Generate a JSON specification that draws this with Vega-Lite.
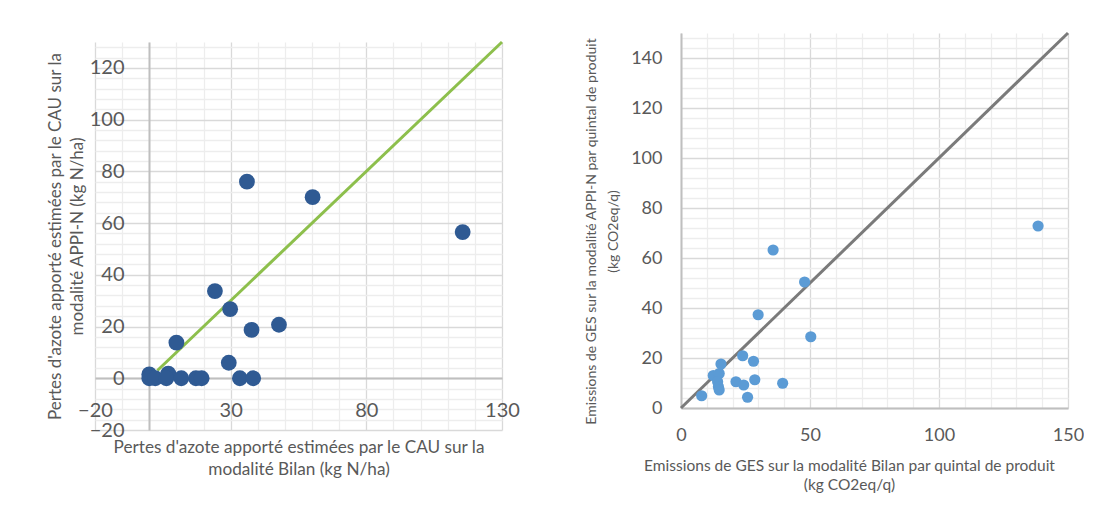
{
  "$schema": "https://vega.github.io/schema/vega-lite/v6.json",
  "background": "white",
  "padding": {"left": 46, "top": 27, "right": 0, "bottom": 0},
  "spacing": 64,
  "config": {
    "font": "Lato",
    "view": {"stroke": null},
    "axis": {
      "ticks": false,
      "tickSize": 0,
      "labelColor": "#595959",
      "titleColor": "#595959",
      "titleFontWeight": "normal",
      "domainColor": "#bfbfbf",
      "domainWidth": 2,
      "gridWidth": 1.3,
      "labelOverlap": false,
      "labelFlush": false,
      "labelBound": false
    }
  },
  "datasets": {
    "azote": [
      {"bilan": 36, "appi": 76},
      {"bilan": 60.2, "appi": 70},
      {"bilan": 115.5, "appi": 56.5},
      {"bilan": 24.2, "appi": 33.7},
      {"bilan": 29.8, "appi": 26.7},
      {"bilan": 47.8, "appi": 20.7},
      {"bilan": 37.7, "appi": 18.7},
      {"bilan": 10, "appi": 13.8},
      {"bilan": 29.3, "appi": 6},
      {"bilan": 33.4, "appi": 0},
      {"bilan": 38.3, "appi": 0},
      {"bilan": 0, "appi": 1.5},
      {"bilan": 0, "appi": 0},
      {"bilan": 2.2, "appi": 0},
      {"bilan": 7, "appi": 1.8},
      {"bilan": 6.3, "appi": 0},
      {"bilan": 11.8, "appi": 0},
      {"bilan": 17.2, "appi": 0},
      {"bilan": 19.3, "appi": 0}
    ],
    "ges": [
      {"bilan": 138.4, "appi": 72.8},
      {"bilan": 35.7, "appi": 63.2},
      {"bilan": 47.9, "appi": 50.4},
      {"bilan": 29.9, "appi": 37.3},
      {"bilan": 50.3, "appi": 28.5},
      {"bilan": 23.9, "appi": 20.9},
      {"bilan": 28.1, "appi": 18.7},
      {"bilan": 15.5, "appi": 17.6},
      {"bilan": 12.5, "appi": 13.0},
      {"bilan": 14.8, "appi": 13.8},
      {"bilan": 14.2, "appi": 10.5},
      {"bilan": 14.5, "appi": 8.5},
      {"bilan": 14.8, "appi": 7.2},
      {"bilan": 21.3, "appi": 10.5},
      {"bilan": 24.3, "appi": 9.2},
      {"bilan": 28.6, "appi": 11.3},
      {"bilan": 39.4, "appi": 9.9},
      {"bilan": 25.8, "appi": 4.3},
      {"bilan": 8.0, "appi": 4.9}
    ],
    "diag_left": [{"bilan": 3, "appi": 3}, {"bilan": 130, "appi": 130}],
    "diag_right": [{"bilan": 0, "appi": 0}, {"bilan": 150, "appi": 150}],
    "spacer": [{}]
  },
  "hconcat": [
    {
      "spacing": 2,
      "vconcat": [
        {
          "width": 20,
          "height": 1,
          "data": {"name": "spacer"},
          "mark": {"type": "point", "opacity": 0, "clip": true},
          "encoding": {}
        },
        {
          "width": 407,
          "height": 388,
          "encoding": {
            "x": {
              "field": "bilan",
              "type": "quantitative",
              "scale": {"domain": [-20, 130], "nice": false, "zero": false},
              "axis": {
                "title": ["Pertes d'azote apporté estimées par le CAU sur la", "modalité Bilan (kg N/ha)"],
                "values": [-20, -10, 0, 10, 20, 30, 40, 50, 60, 70, 80, 90, 100, 110, 120, 130],
                "labelExpr": "(datum.value + 20) % 50 === 0 ? datum.label : ''",
                "offset": -52,
                "grid": true,
                "gridColor": {"condition": {"test": "(datum.value + 20) % 50 === 0", "value": "#d9d9d9"}, "value": "#ededed"},
                "labelFontSize": 20,
                "labelPadding": 22,
                "titleFontSize": 17.2,
                "titlePadding": 18,
                "titleLineHeight": 22
              }
            },
            "y": {
              "field": "appi",
              "type": "quantitative",
              "scale": {"domain": [-20, 130], "nice": false, "zero": false},
              "axis": {
                "title": ["Pertes d'azote apporté estimées par le CAU sur la", "modalité APPI-N (kg N/ha)"],
                "values": [-20, -16, -12, -8, -4, 0, 4, 8, 12, 16, 20, 24, 28, 32, 36, 40, 44, 48, 52, 56, 60, 64, 68, 72, 76, 80, 84, 88, 92, 96, 100, 104, 108, 112, 116, 120, 124, 128],
                "labelExpr": "datum.value % 20 === 0 ? datum.label : ''",
                "offset": -54,
                "grid": true,
                "gridColor": {"condition": {"test": "datum.value % 20 === 0", "value": "#d9d9d9"}, "value": "#ededed"},
                "labelFontSize": 20,
                "labelPadding": 25,
                "titleFontSize": 17,
                "titlePadding": 3,
                "titleLineHeight": 22
              }
            }
          },
          "layer": [
            {
              "data": {"name": "diag_left"},
              "mark": {"type": "line", "color": "#8dbf4c", "strokeWidth": 3},
              "encoding": {}
            },
            {
              "data": {"name": "azote"},
              "mark": {"type": "circle", "color": "#2f5a93", "opacity": 1, "size": 250}
            }
          ]
        }
      ]
    },
    {
      "width": 387,
      "height": 375,
      "encoding": {
        "x": {
          "field": "bilan",
          "type": "quantitative",
          "scale": {"domain": [0, 150], "nice": false},
          "axis": {
            "title": ["Emissions de GES sur la modalité Bilan par quintal de produit", "(kg CO2eq/q)"],
            "values": [0, 10, 20, 30, 40, 50, 60, 70, 80, 90, 100, 110, 120, 130, 140, 150],
            "labelExpr": "datum.value % 50 === 0 ? datum.label : ''",
            "grid": true,
            "gridColor": {"condition": {"test": "datum.value % 50 === 0", "value": "#d9d9d9"}, "value": "#ededed"},
            "labelFontSize": 18,
            "labelPadding": 18,
            "titleFontSize": 15.5,
            "titlePadding": 14,
            "titleLineHeight": 19,
            "titleX": 168
          }
        },
        "y": {
          "field": "appi",
          "type": "quantitative",
          "scale": {"domain": [0, 150], "nice": false},
          "axis": {
            "title": ["Emissions de GES sur la modalité APPI-N par quintal de produit", "(kg CO2eq/q)"],
            "values": [0, 4, 8, 12, 16, 20, 24, 28, 32, 36, 40, 44, 48, 52, 56, 60, 64, 68, 72, 76, 80, 84, 88, 92, 96, 100, 104, 108, 112, 116, 120, 124, 128, 132, 136, 140, 144, 148],
            "labelExpr": "datum.value % 20 === 0 ? datum.label : ''",
            "grid": true,
            "gridColor": {"condition": {"test": "datum.value % 20 === 0", "value": "#d9d9d9"}, "value": "#ededed"},
            "labelFontSize": 18,
            "labelPadding": 19,
            "titleFontSize": 14,
            "titlePadding": 10,
            "titleLineHeight": 22,
            "titleY": 198
          }
        }
      },
      "layer": [
        {
          "data": {"name": "diag_right"},
          "mark": {"type": "line", "color": "#7a7a7a", "strokeWidth": 3},
          "encoding": {}
        },
        {
          "data": {"name": "ges"},
          "mark": {"type": "circle", "color": "#5b9bd5", "opacity": 1, "size": 125}
        }
      ]
    }
  ]
}
